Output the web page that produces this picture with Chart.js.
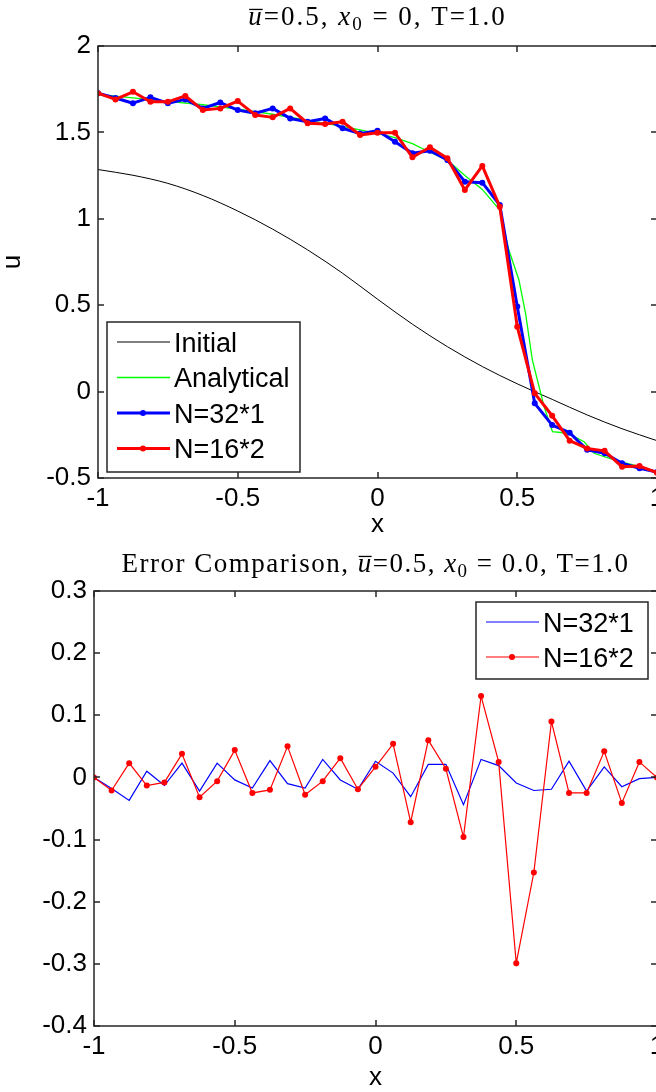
<!DOCTYPE html>
<html>
<head>
<meta charset="utf-8">
<script src="https://cdn.jsdelivr.net/npm/chart.js@4.4.0/dist/chart.umd.min.js"></script>
<style>
  html, body { margin: 0; padding: 0; background: #fff; overflow: hidden; }
  #cadre { position: relative; width: 656px; height: 1092px; overflow: hidden; }
  #cadre canvas { position: absolute; left: 0; display: block; }
</style>
</head>
<body>
<div id="cadre">
  <canvas id="solution" width="700" height="546" style="top:0"></canvas>
  <canvas id="erreur" width="700" height="546" style="top:546px"></canvas>
</div>
<script>
// Noeuds communs aux deux solutions numériques (33 points)
const noeuds = [-1, -0.9375, -0.875, -0.8125, -0.75, -0.6875, -0.625, -0.5625, -0.5,
  -0.4375, -0.375, -0.3125, -0.25, -0.1875, -0.125, -0.0625, 0, 0.0625, 0.125, 0.1875,
  0.25, 0.3125, 0.375, 0.4375, 0.5, 0.5625, 0.625, 0.6875, 0.75, 0.8125, 0.875, 0.9375, 1];

// Condition initiale
const xInitial = [-1, -0.875, -0.75, -0.625, -0.5, -0.375, -0.25, -0.125, 0,
  0.125, 0.25, 0.375, 0.5, 0.625, 0.75, 0.875, 1];
const uInitial = [1.285, 1.252, 1.205, 1.135, 1.045, 0.94, 0.82, 0.685, 0.535,
  0.39, 0.26, 0.145, 0.045, -0.045, -0.135, -0.215, -0.284];

// Solution analytique
const xAnalytique = [-1, -0.875, -0.75, -0.625, -0.5, -0.375, -0.25, -0.125, 0, 0.0625,
  0.125, 0.1875, 0.25, 0.3125, 0.375, 0.4375, 0.47, 0.506, 0.53, 0.554, 0.596, 0.626,
  0.68, 0.739, 0.775, 0.811, 0.871, 0.943, 1];
const uAnalytique = [1.72, 1.70, 1.68, 1.66, 1.635, 1.605, 1.57, 1.535, 1.495, 1.47,
  1.435, 1.385, 1.34, 1.25, 1.17, 1.051, 0.819, 0.646, 0.45, 0.183, -0.087, -0.232,
  -0.241, -0.29, -0.357, -0.377, -0.406, -0.435, -0.47];

// Solutions numériques
const uN32 = [1.727, 1.699, 1.669, 1.703, 1.669, 1.691, 1.639, 1.673, 1.629, 1.611,
  1.639, 1.581, 1.562, 1.581, 1.524, 1.493, 1.510, 1.446, 1.379, 1.394, 1.340, 1.215,
  1.209, 1.080, 0.492, -0.068, -0.194, -0.238, -0.337, -0.357, -0.415, -0.444, -0.465];
const uN16 = [1.727, 1.691, 1.735, 1.677, 1.677, 1.711, 1.629, 1.639, 1.681, 1.601,
  1.587, 1.639, 1.553, 1.549, 1.562, 1.485, 1.498, 1.498, 1.356, 1.414, 1.350, 1.167,
  1.306, 1.070, 0.376, -0.01, -0.140, -0.284, -0.329, -0.343, -0.435, -0.431, -0.469];

// Erreurs
const errN32 = [0, -0.018, -0.037, 0.010, -0.013, 0.023, -0.022, 0.023, -0.004, -0.017,
  0.027, -0.010, -0.017, 0.029, -0.004, -0.019, 0.026, 0.007, -0.031, 0.021, 0.021,
  -0.044, 0.029, 0.019, -0.009, -0.021, -0.019, 0.026, -0.022, 0.017, -0.015, -0.002, 0];
const errN16 = [0, -0.021, 0.023, -0.013, -0.008, 0.038, -0.032, -0.006, 0.044, -0.025,
  -0.020, 0.050, -0.028, -0.006, 0.031, -0.019, 0.017, 0.054, -0.072, 0.060, 0.014,
  -0.096, 0.131, 0.025, -0.299, -0.153, 0.090, -0.025, -0.025, 0.042, -0.041, 0.025, 0];

// Graduations
const ticksX = [-1, -0.5, 0, 0.5, 1];
const ticksU = [-0.5, 0, 0.5, 1, 1.5, 2];
const ticksErr = [-0.4, -0.3, -0.2, -0.1, 0, 0.1, 0.2, 0.3];

const SANS = '"Liberation Sans", Arial, sans-serif';
const SERIF = '"Liberation Serif", "Times New Roman", serif';
Chart.defaults.font.family = SANS;
Chart.defaults.color = '#000';

function paires(xs, ys) {
  return xs.map((x, i) => ({ x: x, y: ys[i] }));
}

// Cadre et graduations vers l'intérieur, comme MATLAB
const cadreMatlab = {
  id: 'cadreMatlab',
  afterDatasetsDraw(chart) {
    const { ctx, chartArea: a, scales } = chart;
    ctx.save();
    ctx.strokeStyle = '#262626';
    ctx.lineWidth = 1.5;
    ctx.strokeRect(a.left, a.top, a.right - a.left, a.bottom - a.top);
    ctx.beginPath();
    for (const t of scales.x.ticks) {
      const px = Math.round(scales.x.getPixelForValue(t.value));
      ctx.moveTo(px, a.bottom); ctx.lineTo(px, a.bottom - 6);
      ctx.moveTo(px, a.top); ctx.lineTo(px, a.top + 6);
    }
    for (const t of scales.y.ticks) {
      const py = Math.round(scales.y.getPixelForValue(t.value));
      ctx.moveTo(a.left, py); ctx.lineTo(a.left + 6, py);
      ctx.moveTo(a.right, py); ctx.lineTo(a.right - 6, py);
    }
    ctx.stroke();
    ctx.restore();
  }
};

// Légende encadrée à l'intérieur des axes
const legendeMatlab = {
  id: 'legendeMatlab',
  afterDraw(chart, args, opts) {
    const { ctx, chartArea: a } = chart;
    const w = opts.largeur, h = opts.hauteur;
    const x0 = opts.coin === 'bas-gauche' ? a.left + opts.marge : a.right - opts.marge - w;
    const y0 = opts.coin === 'bas-gauche' ? a.bottom - opts.margeV - h : a.top + opts.margeV;
    ctx.save();
    ctx.fillStyle = '#fff';
    ctx.fillRect(x0, y0, w, h);
    ctx.strokeStyle = '#262626';
    ctx.lineWidth = 1.5;
    ctx.strokeRect(x0, y0, w, h);
    ctx.font = opts.taille + 'px ' + SANS;
    ctx.textBaseline = 'alphabetic';
    chart.data.datasets.forEach((d, i) => {
      const y = y0 + opts.premier + i * opts.pas;
      ctx.strokeStyle = d.borderColor;
      ctx.lineWidth = d.borderWidth;
      ctx.beginPath();
      ctx.moveTo(x0 + 10, y);
      ctx.lineTo(x0 + 63, y);
      ctx.stroke();
      if (d.pointRadius > 0) {
        ctx.fillStyle = d.borderColor;
        ctx.beginPath();
        ctx.arc(x0 + 36, y, d.pointRadius, 0, 2 * Math.PI);
        ctx.fill();
      }
      ctx.fillStyle = '#000';
      ctx.fillText(d.label, x0 + 67, y + opts.taille * 0.36);
    });
    ctx.restore();
  }
};

// Titre façon LaTeX (italique, barre, indice)
const titreMath = {
  id: 'titreMath',
  afterDraw(chart, args, opts) {
    const { ctx, chartArea: a } = chart;
    const taille = opts.taille;
    const police = s => (s.italique ? 'italic ' : '') +
      (s.indice ? Math.round(taille * 0.7) : taille) + 'px ' + SERIF;
    ctx.save();
    ctx.fillStyle = '#000';
    ctx.textBaseline = 'alphabetic';
    ctx.letterSpacing = opts.espacement + 'px';
    let total = 0;
    const largeurs = opts.morceaux.map(s => {
      ctx.font = police(s);
      const w = ctx.measureText(s.t).width;
      total += w;
      return w;
    });
    let x = (a.left + a.right) / 2 - total / 2;
    opts.morceaux.forEach((s, i) => {
      ctx.font = police(s);
      ctx.fillText(s.t, x, opts.y + (s.indice ? taille * 0.2 : 0));
      if (s.barre) ctx.fillRect(x + 1, opts.y - taille * 0.6, largeurs[i] - 2, 1.3);
      x += largeurs[i];
    });
    ctx.restore();
  }
};

function axeX(hauteur, padTitre) {
  return {
    type: 'linear', min: -1, max: 1,
    afterBuildTicks: s => { s.ticks = ticksX.map(v => ({ value: v })); },
    afterFit: s => { s.height = hauteur; },
    grid: { display: false, drawTicks: false },
    border: { display: false },
    ticks: { font: { size: 26 }, padding: 5, maxRotation: 0, autoSkip: false, callback: v => String(v) },
    title: { display: true, text: 'x', font: { size: 26, lineHeight: 1 }, padding: { top: 0, bottom: padTitre } }
  };
}

function axeY(largeur, min, max, valeurs, titre) {
  return {
    type: 'linear', min: min, max: max,
    afterBuildTicks: s => { s.ticks = valeurs.map(v => ({ value: v })); },
    afterFit: s => { s.width = largeur; },
    grid: { display: false, drawTicks: false },
    border: { display: false },
    ticks: { font: { size: 26 }, padding: 7, autoSkip: false, callback: v => String(v) },
    title: { display: !!titre, text: titre || '', font: { size: 26, lineHeight: 1 }, padding: { top: 0, bottom: 0 } }
  };
}

new Chart(document.getElementById('solution'), {
  type: 'line',
  data: {
    datasets: [
      { label: 'Initial', data: paires(xInitial, uInitial), borderColor: '#000000',
        borderWidth: 1, pointRadius: 0, cubicInterpolationMode: 'monotone', order: 4 },
      { label: 'Analytical', data: paires(xAnalytique, uAnalytique), borderColor: '#00ff00',
        borderWidth: 1.3, pointRadius: 0, order: 3 },
      { label: 'N=32*1', data: paires(noeuds, uN32), borderColor: '#0000ff', backgroundColor: '#0000ff',
        borderWidth: 3, pointRadius: 3, pointBorderWidth: 0, borderJoinStyle: 'round', order: 2 },
      { label: 'N=16*2', data: paires(noeuds, uN16), borderColor: '#ff0000', backgroundColor: '#ff0000',
        borderWidth: 3, pointRadius: 3, pointBorderWidth: 0, borderJoinStyle: 'round', order: 1 }
    ]
  },
  options: {
    responsive: false,
    animation: false,
    layout: { padding: { top: 46, left: 0, right: 43, bottom: 0 } },
    plugins: {
      legend: { display: false },
      tooltip: { enabled: false },
      legendeMatlab: { coin: 'bas-gauche', marge: 9, margeV: 6, largeur: 193, hauteur: 150,
        premier: 20, pas: 35.5, taille: 27 },
      titreMath: { y: 25, taille: 27, espacement: 2, morceaux: [
        { t: 'u', italique: true, barre: true }, { t: '=0.5, ' },
        { t: 'x', italique: true }, { t: '0', indice: true }, { t: ' = 0, T=1.0' }] }
    },
    scales: { x: axeX(68, 8), y: axeY(98, -0.5, 2, ticksU, 'u') }
  },
  plugins: [cadreMatlab, legendeMatlab, titreMath]
});

new Chart(document.getElementById('erreur'), {
  type: 'line',
  data: {
    datasets: [
      { label: 'N=32*1', data: paires(noeuds, errN32), borderColor: '#0000ff',
        borderWidth: 1.2, pointRadius: 0, order: 2 },
      { label: 'N=16*2', data: paires(noeuds, errN16), borderColor: '#ff0000', backgroundColor: '#ff0000',
        borderWidth: 1.2, pointRadius: 3, pointBorderWidth: 0, order: 1 }
    ]
  },
  options: {
    responsive: false,
    animation: false,
    layout: { padding: { top: 45, left: 0, right: 43, bottom: 0 } },
    plugins: {
      legend: { display: false },
      tooltip: { enabled: false },
      legendeMatlab: { coin: 'haut-droite', marge: 9, margeV: 11, largeur: 172, hauteur: 77,
        premier: 20, pas: 35, taille: 27 },
      titreMath: { y: 26, taille: 27, espacement: 1.5, morceaux: [
        { t: 'Error Comparison, ' }, { t: 'u', italique: true, barre: true }, { t: '=0.5, ' },
        { t: 'x', italique: true }, { t: '0', indice: true }, { t: ' = 0.0, T=1.0' }] }
    },
    scales: { x: axeX(66, 1), y: axeY(94, -0.4, 0.3, ticksErr, '') }
  },
  plugins: [cadreMatlab, legendeMatlab, titreMath]
});
</script>
</body>
</html>
